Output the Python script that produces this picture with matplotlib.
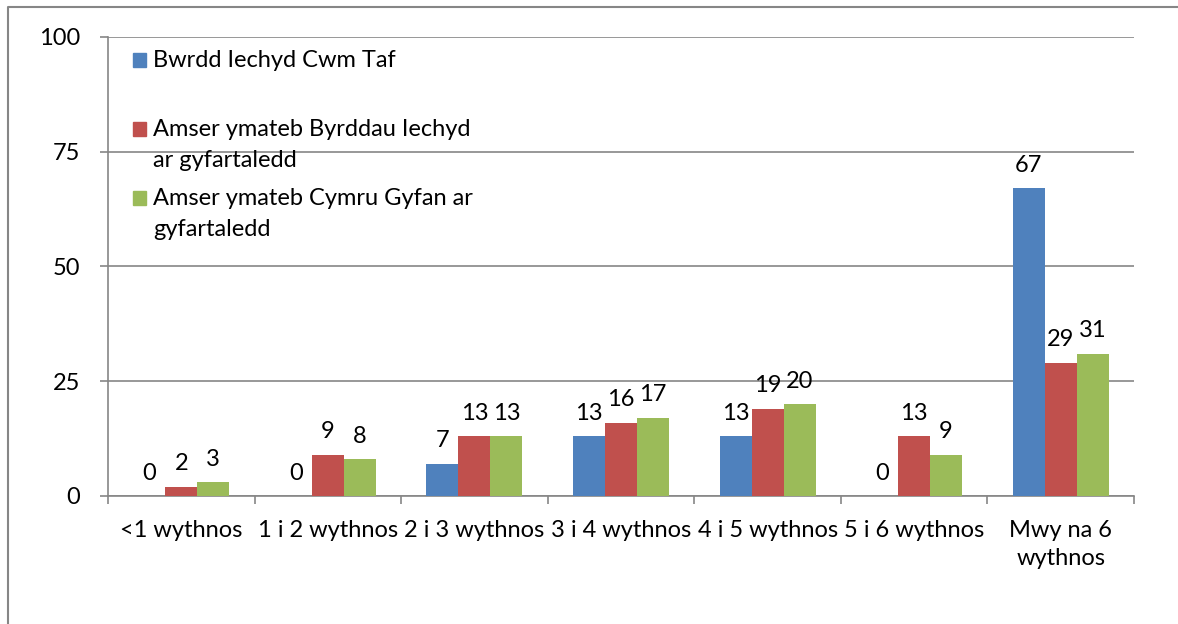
import numpy as np
import matplotlib.pyplot as plt
from matplotlib.lines import Line2D
from matplotlib.patches import Rectangle

categories = ['<1 wythnos', '1 i 2 wythnos', '2 i 3 wythnos', '3 i 4 wythnos',
              '4 i 5 wythnos', '5 i 6 wythnos', 'Mwy na 6\nwythnos']
cwm_taf = [0, 0, 7, 13, 13, 0, 67]
byrddau = [2, 9, 13, 16, 19, 13, 29]
cymru = [3, 8, 13, 17, 20, 9, 31]
series_names = ['Bwrdd Iechyd Cwm Taf',
                'Amser ymateb Byrddau Iechyd\nar gyfartaledd',
                'Amser ymateb Cymru Gyfan ar\ngyfartaledd']
colors = ['#4F81BD', '#C0504D', '#9BBB59']

plt.rcParams['font.family'] = ['Lato', 'DejaVu Sans']
fs = 17
grid_col = '#868686'

fig = plt.figure(figsize=(11.78, 6.24), dpi=100)
ax = fig.add_axes([108 / 1178, 1 - 496 / 624, 1026 / 1178, 459 / 624])

x = np.arange(len(categories))
w = 0.218
for i, (vals, col) in enumerate(zip([cwm_taf, byrddau, cymru], colors)):
    bars = ax.bar(x + (i - 1) * w, vals, w, color=col, zorder=3)
    for b, v in zip(bars, vals):
        ax.annotate(str(v), (b.get_x() + b.get_width() / 2, v),
                    xytext=(0, 9), textcoords='offset points',
                    ha='center', va='bottom', fontsize=fs)

ax.set_xlim(-0.5, len(categories) - 0.5)
ax.set_ylim(0, 100)
ax.set_yticks([0, 25, 50, 75, 100])
ax.yaxis.grid(True, color=grid_col, linewidth=1.2, zorder=0)
ax.tick_params(axis='y', length=6, color=grid_col, width=1.2, pad=14, labelsize=fs)
ax.set_xticks(x)
ax.set_xticklabels(categories, fontsize=fs, linespacing=1.45)
ax.tick_params(axis='x', which='major', length=0, pad=17)
ax.set_xticks(np.arange(len(categories) + 1) - 0.5, minor=True)
ax.tick_params(axis='x', which='minor', length=6, color=grid_col, width=1.2)

for s in ['top', 'right']:
    ax.spines[s].set_visible(False)
for s in ['left', 'bottom']:
    ax.spines[s].set_color(grid_col)
    ax.spines[s].set_linewidth(1.2)

# legend drawn inside the plot area
leg_y = [60, 129, 198]
for name, col, py in zip(series_names, colors, leg_y):
    ax.add_patch(Rectangle(((133 - 108) / 1026, (496 - py - 7) / 459),
                           13 / 1026, 14 / 459, transform=ax.transAxes,
                           color=col, clip_on=False, zorder=5))
    ax.text((153 - 108) / 1026, (496 - py + 10) / 459, name,
            transform=ax.transAxes, fontsize=fs, va='top', ha='left',
            linespacing=1.6)

# outer chart border (top and left edges visible)
fig.add_artist(Line2D([8 / 1178, 8 / 1178, 1.0], [0.0, 1 - 7 / 624, 1 - 7 / 624],
                      transform=fig.transFigure, color=grid_col, linewidth=1.5))

fig.savefig('out.png', dpi=100)
